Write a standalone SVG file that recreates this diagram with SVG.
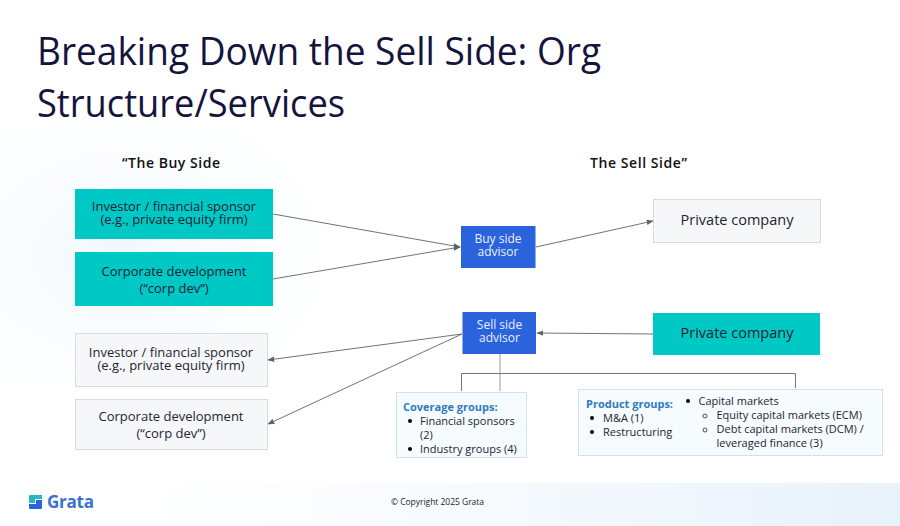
<svg xmlns="http://www.w3.org/2000/svg" width="900" height="526" viewBox="0 0 900 526">
<style>
text{font-family:"Open Sans","Noto Sans","Liberation Sans",sans-serif;fill:#1d2433}
.n{font-size:13px;text-anchor:middle}
.p{font-size:14.5px;text-anchor:middle}
.a{font-size:12px;text-anchor:middle;fill:#e8f0ff}
.s{font-size:11px}
.h{font-size:14px;font-weight:600;fill:#111}
.g{font-size:11px;font-weight:700;fill:#2f79c4}
.t{font-size:38px;fill:#14143c}
.teal{fill:#00c8c4}
.gray{fill:#f6f7f9;stroke:#d9dcdf;stroke-width:1}
.blue{fill:#2a63dc}
.info{fill:#f6fbfd;stroke:#cfe4ec;stroke-width:1}
.c{fill:none;stroke:#5c6470;stroke-width:.9}
.tree{fill:none;stroke:#777;stroke-width:1}
</style>
<defs>
<marker id="arr" viewBox="0 0 10 10" refX="9" refY="5" markerWidth="7" markerHeight="7" markerUnits="userSpaceOnUse" orient="auto"><path d="M0 1L10 5L0 9Z" fill="#5c6470"/></marker>
<linearGradient id="bg1" x1="0" y1="0" x2="1" y2="0"><stop offset="0" stop-color="#eef6fc" stop-opacity="0"/><stop offset="1" stop-color="#e8f2fb"/></linearGradient>
<radialGradient id="bg2" cx=".35" cy=".5" r=".65"><stop offset="0" stop-color="#f1f8fd"/><stop offset="1" stop-color="#f6fafd" stop-opacity="0"/></radialGradient>
</defs>
<rect width="900" height="526" fill="#fff"/>
<rect x="130" y="483" width="770" height="43" fill="url(#bg1)"/>
<rect x="0" y="125" width="340" height="260" fill="url(#bg2)"/>
<g id="title">
<text class="t" x="37" y="65" textLength="564" lengthAdjust="spacingAndGlyphs">Breaking Down the Sell Side: Org</text>
<text class="t" x="37" y="117" textLength="308" lengthAdjust="spacingAndGlyphs">Structure/Services</text>
</g>
<g id="headers">
<text class="h" x="122" y="168" textLength="98">“The Buy Side</text>
<text class="h" x="590" y="168" textLength="97">The Sell Side”</text>
</g>
<g id="connectors">
<path class="c" d="M273 214L460 247" marker-end="url(#arr)"/>
<path class="c" d="M273 279L460 247" marker-end="url(#arr)"/>
<path class="c" d="M536 247L653 221" marker-end="url(#arr)"/>
<path class="c" d="M653 334L537 333" marker-end="url(#arr)"/>
<path class="c" d="M462 334L268 360" marker-end="url(#arr)"/>
<path class="c" d="M462 334L268 424" marker-end="url(#arr)"/>
<path class="tree" style="stroke:#999" d="M500 354V391"/>
<path class="tree" d="M461.500 391V373.500H795.500V388"/>
</g>
<g id="n-investor-buy"><rect class="teal" x="75" y="189" width="198" height="50"/>
<text class="n"><tspan x="174" y="211">Investor / financial sponsor</tspan><tspan x="174" y="224">(e.g., private equity firm)</tspan></text></g>
<g id="n-corpdev-buy"><rect class="teal" x="75" y="252" width="198" height="54"/>
<text class="n"><tspan x="174" y="276">Corporate development</tspan><tspan x="174" y="293">(“corp dev”)</tspan></text></g>
<g id="n-buy-advisor"><rect class="blue" x="461" y="226" width="74.500" height="42"/>
<text class="a"><tspan x="498" y="243">Buy side</tspan><tspan x="498" y="256">advisor</tspan></text></g>
<g id="n-private-top"><rect class="gray" x="653.500" y="199.500" width="167" height="43"/>
<text class="p" x="737" y="225">Private company</text></g>
<g id="n-sell-advisor"><rect class="blue" x="462.500" y="312" width="73.500" height="42"/>
<text class="a"><tspan x="499.500" y="329">Sell side</tspan><tspan x="499.500" y="342">advisor</tspan></text></g>
<g id="n-private-bottom"><rect class="teal" x="653" y="313" width="167" height="42"/>
<text class="p" x="737" y="338">Private company</text></g>
<g id="n-investor-sell"><rect class="gray" x="75.500" y="333.500" width="192" height="53"/>
<text class="n"><tspan x="171" y="357">Investor / financial sponsor</tspan><tspan x="171" y="370">(e.g., private equity firm)</tspan></text></g>
<g id="n-corpdev-sell"><rect class="gray" x="75.500" y="399.500" width="192" height="50"/>
<text class="n"><tspan x="171" y="421">Corporate development</tspan><tspan x="171" y="438">(“corp dev”)</tspan></text></g>
<g id="n-coverage"><rect class="info" x="396.500" y="392.500" width="130" height="65"/>
<text class="g" x="403" y="411">Coverage groups:</text>
<circle cx="410" cy="421" r="2"/>
<circle cx="410" cy="449" r="2"/>
<text class="s"><tspan x="420" y="425">Financial sponsors</tspan><tspan x="420" y="439">(2)</tspan><tspan x="420" y="453">Industry groups (4)</tspan></text></g>
<g id="n-product"><rect class="info" x="578.500" y="389.500" width="304" height="66"/>
<text class="g" x="586" y="408">Product groups:</text>
<circle cx="592" cy="418" r="2"/>
<circle cx="592" cy="432" r="2"/>
<text class="s"><tspan x="603" y="422">M&amp;A (1)</tspan><tspan x="603" y="436">Restructuring</tspan></text>
<circle cx="688" cy="401" r="2"/>
<circle cx="705" cy="416" r="2" fill="none" stroke="#1d2433" stroke-width=".8"/>
<circle cx="705" cy="430" r="2" fill="none" stroke="#1d2433" stroke-width=".8"/>
<text class="s"><tspan x="698.500" y="405">Capital markets</tspan><tspan x="716.500" y="419">Equity capital markets (ECM)</tspan><tspan x="716.500" y="433">Debt capital markets (DCM) /</tspan><tspan x="716.500" y="447">leveraged finance (3)</tspan></text></g>
<g id="logo">
<path d="M29 496Q29 495 30 495H42V499H35V503H29Z" fill="#22b8c4"/>
<path d="M29 504H36V500H42V508Q42 509 41 509H30Q29 509 29 508Z" fill="#2a63dc"/>
<text x="47" y="508" style="font-size:17px;font-weight:700;fill:#3a72cf" textLength="47">Grata</text>
</g>
<text id="copyright" x="391" y="505" style="font-size:8.500px" textLength="93">© Copyright 2025 Grata</text>
</svg>
